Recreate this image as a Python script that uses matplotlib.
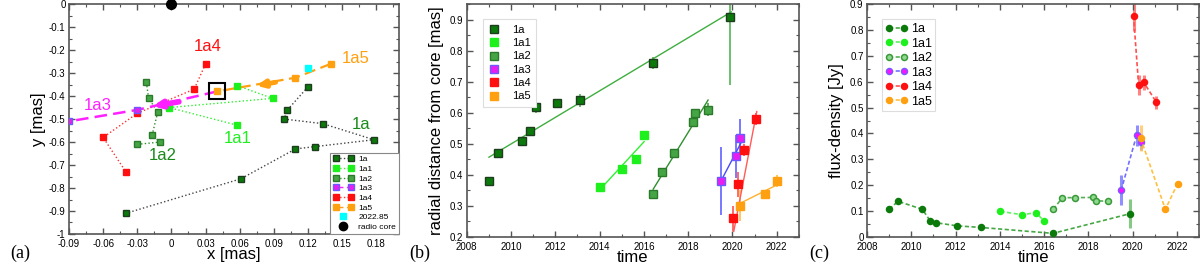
import numpy as np
import matplotlib
matplotlib.use("Agg")
import matplotlib.pyplot as plt
from matplotlib.lines import Line2D
from matplotlib.legend_handler import HandlerLine2D
from matplotlib.ticker import MultipleLocator, FuncFormatter

plt.rcParams['font.family'] = ['Liberation Sans', 'DejaVu Sans']

# ---------------- data: panel (a) positions [mas] ----------------
names = ['1a', '1a1', '1a2', '1a3', '1a4', '1a5']
x_1a = [0.120, 0.102, 0.099, 0.133, 0.178, 0.126, 0.109, 0.061, -0.040]
y_1a = [-0.36, -0.46, -0.50, -0.52, -0.59, -0.62, -0.63, -0.76, -0.91]
x_1a1 = [0.058, 0.089, -0.002, 0.058]
y_1a1 = [-0.355, -0.41, -0.45, -0.527]
x_1a2 = [-0.022, -0.020, -0.012, -0.017, -0.010, -0.030]
y_1a2 = [-0.34, -0.41, -0.47, -0.57, -0.60, -0.61]
x_1a3 = [0.040, -0.030, -0.090]
y_1a3 = [-0.38, -0.46, -0.51]
x_1a4 = [0.030, 0.020, -0.030, -0.060, -0.040]
y_1a4 = [-0.26, -0.37, -0.475, -0.58, -0.73]
x_1a5 = [0.140, 0.109, 0.040]
y_1a5 = [-0.26, -0.32, -0.38]
x_2022 = [0.120]
y_2022 = [-0.28]
x_core = [0.0]
y_core = [0.0]

# ---------------- data: panel (b) radial distance [mas] ----------------
t_1a = [2009.0, 2009.4, 2010.5, 2010.85, 2011.13, 2012.08, 2013.13, 2016.4, 2019.88]
r_1a = [0.38, 0.47, 0.51, 0.54, 0.62, 0.63, 0.64, 0.76, 0.91]
re_1a = [0.005, 0.005, 0.01, 0.01, 0.02, 0.01, 0.02, 0.02, 0.22]
t_1a1 = [2014.03, 2015.0, 2015.63, 2016.0]
r_1a1 = [0.36, 0.42, 0.45, 0.53]
re_1a1 = [0.01, 0.01, 0.01, 0.01]
t_1a2 = [2016.41, 2016.83, 2017.38, 2018.23, 2018.33, 2018.9]
r_1a2 = [0.34, 0.41, 0.47, 0.57, 0.60, 0.61]
re_1a2 = [0.01, 0.01, 0.01, 0.01, 0.01, 0.02]
t_1a3 = [2019.48, 2020.18, 2020.36]
r_1a3 = [0.38, 0.46, 0.52]
re_1a3 = [0.11, 0.07, 0.06]
t_1a4 = [2020.04, 2020.27, 2020.5, 2021.07]
r_1a4 = [0.26, 0.37, 0.48, 0.58]
re_1a4 = [0.04, 0.04, 0.02, 0.02]
t_1a5 = [2020.36, 2021.48, 2022.03]
r_1a5 = [0.30, 0.34, 0.38]
re_1a5 = [0.05, 0.01, 0.02]

# linear fits (end points)
fit_t = {'1a': [2009.0, 2019.95], '1a1': [2014.03, 2016.01], '1a2': [2016.42, 2018.9],
         '1a3': [2019.48, 2020.4], '1a4': [2020.06, 2021.1], '1a5': [2020.36, 2022.07]}
fit_r = {'1a': [0.457, 0.925], '1a1': [0.354, 0.507], '1a2': [0.354, 0.641],
         '1a3': [0.38, 0.505], '1a4': [0.218, 0.604], '1a5': [0.309, 0.37]}

# ---------------- data: panel (c) flux density [Jy] ----------------
f_1a = [0.107, 0.138, 0.107, 0.063, 0.055, 0.043, 0.037, 0.014, 0.090]
fe_1a = [0.003, 0.003, 0.003, 0.003, 0.003, 0.003, 0.003, 0.003, 0.055]
f_1a1 = [0.099, 0.086, 0.094, 0.062]
fe_1a1 = [0.003, 0.003, 0.003, 0.003]
f_1a2 = [0.107, 0.152, 0.152, 0.153, 0.140, 0.138]
fe_1a2 = [0.003, 0.003, 0.003, 0.003, 0.003, 0.003]
f_1a3 = [0.180, 0.393, 0.367]
fe_1a3 = [0.058, 0.040, 0.030]
f_1a4 = [0.856, 0.587, 0.598, 0.521]
fe_1a4 = [0.060, 0.040, 0.030, 0.025]
f_1a5 = [0.382, 0.107, 0.206]
fe_1a5 = [0.050, 0.005, 0.010]

# ---------------- styles ----------------
face = {'1a': '#0b7a0b', '1a1': '#1ef01e', '1a2': '#45a545', '1a3': '#e81ef0',
        '1a4': '#ff1010', '1a5': '#ffa010'}
edge = {'1a': '#1e3c1e', '1a1': '#1ef01e', '1a2': '#2a7a2a', '1a3': '#6a5aff',
        '1a4': '#ff1010', '1a5': '#ffa010'}
fitc = {'1a': '#3fae3f', '1a1': '#30f030', '1a2': '#2f8f2f', '1a3': '#4848ff',
        '1a4': '#ff5a5a', '1a5': '#ffb030'}
errc = {'1a': '#5cb85c', '1a1': '#60f060', '1a2': '#4aa64a', '1a3': '#6a6aff',
        '1a4': '#ff5a5a', '1a5': '#ffc050'}
linec_c = {'1a': '#45a845', '1a1': '#60f060', '1a2': '#55b055', '1a3': '#7070ff',
           '1a4': '#ff5050', '1a5': '#ffc040'}
spine_col = '#555555'

fig = plt.figure(figsize=(12, 2.73), dpi=100)
axA = fig.add_axes([0.0575, 0.1429, 0.275, 0.842])
axB = fig.add_axes([0.389, 0.1319, 0.2767, 0.853])
axC = fig.add_axes([0.7225, 0.1319, 0.2767, 0.853])

fmt = FuncFormatter(lambda v, p: f'{v:g}' if abs(v) > 1e-9 else '0')


def style_axes(ax):
    for s in ax.spines.values():
        s.set_color(spine_col)
        s.set_linewidth(1.2)
    ax.tick_params(which='both', direction='in', top=True, right=True,
                   colors=spine_col, labelcolor='black', labelsize=7)
    ax.tick_params(axis='x', which='both', pad=3.5)
    ax.tick_params(axis='y', which='both', pad=2.5)
    ax.tick_params(which='major', length=4, width=1)
    ax.tick_params(which='minor', length=2, width=0.8)


# ---------------- panel (a) ----------------
ax = axA
xs = {'1a': x_1a, '1a1': x_1a1, '1a2': x_1a2, '1a3': x_1a3, '1a4': x_1a4, '1a5': x_1a5}
ys = {'1a': y_1a, '1a1': y_1a1, '1a2': y_1a2, '1a3': y_1a3, '1a4': y_1a4, '1a5': y_1a5}
lsA = {'1a': ':', '1a1': ':', '1a2': ':', '1a3': (0, (5, 2.5)), '1a4': ':', '1a5': (0, (5, 2.5))}
lcA = {'1a': '#444444', '1a1': '#30f030', '1a2': '#2f8f2f', '1a3': '#ff20ff',
       '1a4': '#ff3030', '1a5': '#ffa010'}
lwA = {'1a': 1.0, '1a1': 1.0, '1a2': 1.0, '1a3': 1.8, '1a4': 1.0, '1a5': 1.6}
handlesA = []
for n in ['1a', '1a1', '1a2', '1a4', '1a3', '1a5']:
    ax.plot(xs[n], ys[n], linestyle=lsA[n], color=lcA[n], lw=lwA[n], zorder=2)
for n in ['1a', '1a1', '1a2', '1a4', '1a3', '1a5']:
    xx, yy = xs[n], ys[n]
    if n == '1a3':
        xx, yy = xx[1:], yy[1:]
    ax.plot(xx, yy, linestyle='none', marker='s', ms=4.6, mfc=face[n], mec=edge[n],
            mew=1.0, zorder=4)
for n in names:
    handlesA.append(Line2D([], [], linestyle=lsA[n], color=lcA[n], lw=1.0, marker='s',
                           ms=5, mfc=face[n], mec=edge[n], mew=1.0, label=n))
ax.plot(x_2022, y_2022, linestyle='none', marker='s', ms=4.6, mfc='#00ffff', mec='#00ffff',
        zorder=4)
ax.plot(x_core, y_core, linestyle='none', marker='o', ms=7, color='black', clip_on=False,
        zorder=6)
# box around first 1a5 position
ax.plot([x_1a5[-1]], [y_1a5[-1]], linestyle='none', marker='s', ms=12, mfc='none',
        mec='black', mew=1.5, zorder=5)
# motion arrows
ax.annotate('', xy=(-0.019, -0.446), xytext=(0.009, -0.423),
            arrowprops=dict(arrowstyle='-|>,head_length=0.45,head_width=0.2',
                            color='#ff20ff', lw=4), zorder=5)
ax.annotate('', xy=(0.072, -0.357), xytext=(0.094, -0.338),
            arrowprops=dict(arrowstyle='-|>,head_length=0.45,head_width=0.2',
                            color='#ffa010', lw=3.5), zorder=5)
# labels
ax.text(0.032, -0.185, '1a4', color='#ff1010', fontsize=12, ha='center', va='center')
ax.text(0.162, -0.235, '1a5', color='#ffa010', fontsize=12, ha='center', va='center')
ax.text(-0.065, -0.44, '1a3', color='#ff20ff', fontsize=12, ha='center', va='center')
ax.text(0.058, -0.585, '1a1', color='#1ef01e', fontsize=12, ha='center', va='center')
ax.text(-0.008, -0.66, '1a2', color='#1a8a1a', fontsize=12, ha='center', va='center')
ax.text(0.167, -0.525, '1a', color='#1a8a1a', fontsize=12, ha='center', va='center')

ax.set_xlim(-0.09, 0.2)
ax.set_ylim(-1.0, 0.0)
ax.xaxis.set_major_locator(MultipleLocator(0.03))
ax.xaxis.set_minor_locator(MultipleLocator(0.015))
ax.yaxis.set_major_locator(MultipleLocator(0.1))
ax.yaxis.set_minor_locator(MultipleLocator(0.05))
ax.xaxis.set_major_formatter(fmt)
ax.yaxis.set_major_formatter(fmt)
style_axes(ax)
ax.set_xlabel('x [mas]', fontsize=12, labelpad=-1)
ax.set_ylabel('y [mas]', fontsize=12, labelpad=2)
h_2022 = Line2D([], [], linestyle='none', marker='s', ms=5, mfc='#00ffff', mec='#00ffff',
                label='2022.85')
h_core = Line2D([], [], linestyle='none', marker='o', ms=6, color='black', label='radio core')
legA = ax.legend(handles=handlesA + [h_2022, h_core], loc='lower right', fontsize=6,
                 numpoints=2, handlelength=2.4, handletextpad=0.6, labelspacing=0.22,
                 borderaxespad=0.0, borderpad=0.35, fancybox=False, framealpha=1,
                 edgecolor='#888888',
                 handler_map={h_2022: HandlerLine2D(numpoints=1),
                              h_core: HandlerLine2D(numpoints=1)})
legA.get_frame().set_linewidth(0.8)

# ---------------- panel (b) ----------------
ax = axB
ts = {'1a': t_1a, '1a1': t_1a1, '1a2': t_1a2, '1a3': t_1a3, '1a4': t_1a4, '1a5': t_1a5}
rs = {'1a': r_1a, '1a1': r_1a1, '1a2': r_1a2, '1a3': r_1a3, '1a4': r_1a4, '1a5': r_1a5}
res = {'1a': re_1a, '1a1': re_1a1, '1a2': re_1a2, '1a3': re_1a3, '1a4': re_1a4, '1a5': re_1a5}
handlesB = []
for n in names:
    ax.plot(fit_t[n], fit_r[n], color=fitc[n], lw=1.0, zorder=2)
    ax.errorbar(ts[n], rs[n], yerr=res[n], fmt='none', ecolor=errc[n], elinewidth=1.4,
                capsize=0, zorder=1, alpha=0.9)
    h, = ax.plot(ts[n], rs[n], linestyle='none', marker='s', ms=5.2, mfc=face[n], mec=edge[n],
                 mew=1.0, zorder=4, label=n)
    handlesB.append(h)
ax.set_xlim(2008, 2023)
ax.set_ylim(0.2, 0.95)
ax.xaxis.set_major_locator(MultipleLocator(2))
ax.xaxis.set_minor_locator(MultipleLocator(1))
ax.yaxis.set_major_locator(MultipleLocator(0.1))
ax.yaxis.set_minor_locator(MultipleLocator(0.05))
ax.yaxis.set_major_formatter(fmt)
style_axes(ax)
ax.set_xlabel('time', fontsize=12, labelpad=-1)
ax.set_ylabel('radial distance from core [mas]', fontsize=12, labelpad=4)
legB = ax.legend(handles=handlesB, loc='upper left', bbox_to_anchor=(0.048, 0.935),
                 fontsize=8, numpoints=1, handlelength=1.0, handletextpad=1.1,
                 labelspacing=0.3, borderpad=0.5, fancybox=False, framealpha=1,
                 edgecolor='#dddddd', borderaxespad=0)
legB.get_frame().set_linewidth(0.8)

# ---------------- panel (c) ----------------
ax = axC
fs = {'1a': f_1a, '1a1': f_1a1, '1a2': f_1a2, '1a3': f_1a3, '1a4': f_1a4, '1a5': f_1a5}
fes = {'1a': fe_1a, '1a1': fe_1a1, '1a2': fe_1a2, '1a3': fe_1a3, '1a4': fe_1a4, '1a5': fe_1a5}
cface = {'1a': '#0b7a0b', '1a1': '#1ef01e', '1a2': '#8fd88f', '1a3': '#ff10ff',
         '1a4': '#ff1010', '1a5': '#ffa010'}
cedge = {'1a': '#0b7a0b', '1a1': '#1ef01e', '1a2': '#3a9a3a', '1a3': '#7a5aff',
         '1a4': '#ff1010', '1a5': '#ffa010'}
handlesC = []
for n in names:
    ax.errorbar(ts[n], fs[n], yerr=fes[n], fmt='none', ecolor=errc[n], elinewidth=2.2,
                capsize=0, alpha=0.75, zorder=1)
    h, = ax.plot(ts[n], fs[n], linestyle=(0, (2.5, 1.5)), color=linec_c[n], lw=1.2,
                 marker='o', ms=4.3, mfc=cface[n], mec=cedge[n], mew=1.1, zorder=3, label=n)
    handlesC.append(h)
ax.set_xlim(2008, 2023)
ax.set_ylim(0.0, 0.9)
ax.xaxis.set_major_locator(MultipleLocator(2))
ax.xaxis.set_minor_locator(MultipleLocator(1))
ax.yaxis.set_major_locator(MultipleLocator(0.1))
ax.yaxis.set_minor_locator(MultipleLocator(0.05))
ax.yaxis.set_major_formatter(fmt)
style_axes(ax)
ax.set_xlabel('time', fontsize=12, labelpad=-1)
ax.set_ylabel('flux-density [Jy]', fontsize=12, labelpad=4)
legC = ax.legend(handles=handlesC, loc='upper left', bbox_to_anchor=(0.045, 0.935),
                 fontsize=9, numpoints=2, handlelength=1.8, handletextpad=0.2,
                 labelspacing=0.2, borderpad=0.3, fancybox=False, framealpha=1,
                 edgecolor='#dddddd', borderaxespad=0)
legC.get_frame().set_linewidth(0.8)

# panel letters
for xp, s in [(0.017, '(a)'), (0.350, '(b)'), (0.683, '(c)')]:
    fig.text(xp, 0.072, s, fontsize=13, family=['Liberation Serif', 'DejaVu Serif'],
             ha='center', va='center')

fig.savefig('out.png', dpi=100)
